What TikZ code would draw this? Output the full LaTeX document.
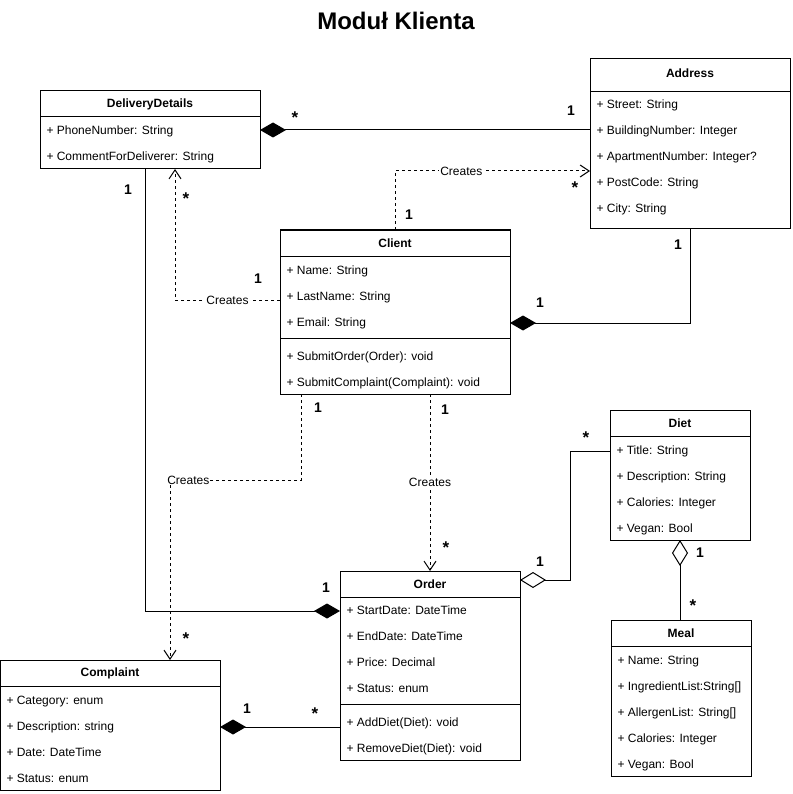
\documentclass[tikz,border=0pt]{standalone}
\usepackage{fontspec}
\setmainfont{Liberation Sans}
\usetikzlibrary{arrows.meta}

\begin{document}
\begin{tikzpicture}[x=1pt, y=-1pt, line width=1pt,
	cls/.style={draw, rectangle, anchor=north west, inner sep=0pt, outer sep=0pt},
	hdr/.style={font=\bfseries\fontsize{12pt}{14pt}\selectfont, inner sep=0pt},
	attr/.style={anchor=west, font=\fontsize{12pt}{14pt}\selectfont, inner sep=0pt, text height=9pt, text depth=3pt, yshift=-2pt},
	mult/.style={font=\bfseries\fontsize{14pt}{16pt}\selectfont, inner sep=0pt},
	star/.style={font=\bfseries\fontsize{17pt}{19pt}\selectfont, inner sep=0pt},
	lbl/.style={font=\fontsize{12pt}{14pt}\selectfont, fill=white, inner sep=1pt},
	comp/.style={{Diamond[length=26pt,width=15pt]}-},
	aggr/.style={{Diamond[open,length=26pt,width=16pt]}-},
	dep/.style={dash pattern=on 3pt off 3pt, -{Straight Barb[length=9pt,width=12pt]}}]
	\useasboundingbox (0,0) rectangle (792,794);
	\node[font=\bfseries\fontsize{24pt}{28pt}\selectfont] (title) at (396,21) {Moduł Klienta};

	% DeliveryDetails
	\node[cls, minimum width=220pt, minimum height=78pt] (deliv) at (40,91) {};
	\node[hdr] (delivH) at (150,104) {DeliveryDetails};
	\draw (40,117) -- (260,117);
	\node[attr] (dphone) at (46,130) {+ PhoneNumber: String};
	\node[attr] (dcomment) at (46,156) {+ CommentForDeliverer: String};

	% Address
	\node[cls, minimum width=200pt, minimum height=170pt] (addr) at (590,59) {};
	\node[hdr] (addrH) at (690,73) {Address};
	\draw (590,92) -- (790,92);
	\node[attr] (astreet) at (596,104) {+ Street: String};
	\node[attr] (abuild) at (596,130) {+ BuildingNumber: Integer};
	\node[attr] (aapart) at (596,156) {+ ApartmentNumber: Integer?};
	\node[attr] (apost) at (596,182) {+ PostCode: String};
	\node[attr] (acity) at (596,208) {+ City: String};

	% Client
	\node[cls, minimum width=230pt, minimum height=164pt] (client) at (280,230) {};
	\node[hdr] (clientH) at (395,243) {Client};
	\draw (280,256) -- (510,256);
	\draw (280,338) -- (510,338);
	\node[attr] (cname) at (286,269) {+ Name: String};
	\node[attr] (clast) at (286,295) {+ LastName: String};
	\node[attr] (cemail) at (286,321) {+ Email: String};
	\node[attr] (csubord) at (286,355) {+ SubmitOrder(Order): void};
	\node[attr] (csubcmp) at (286,381) {+ SubmitComplaint(Complaint): void};

	% Order
	\node[cls, minimum width=180pt, minimum height=189pt] (order) at (340,571) {};
	\node[hdr] (orderH) at (430,584) {Order};
	\draw (340,597) -- (520,597);
	\draw (340,704) -- (520,704);
	\node[attr] (ostart) at (346,609) {+ StartDate: DateTime};
	\node[attr] (oend) at (346,635) {+ EndDate: DateTime};
	\node[attr] (oprice) at (346,661) {+ Price: Decimal};
	\node[attr] (ostatus) at (346,687) {+ Status: enum};
	\node[attr] (oadd) at (346,721) {+ AddDiet(Diet): void};
	\node[attr] (oremove) at (346,747) {+ RemoveDiet(Diet): void};

	% Diet
	\node[cls, minimum width=140pt, minimum height=130pt] (diet) at (610,410) {};
	\node[hdr] (dietH) at (680,423) {Diet};
	\draw (610,436) -- (750,436);
	\node[attr] (dtitle) at (616,449) {+ Title: String};
	\node[attr] (ddesc) at (616,475) {+ Description: String};
	\node[attr] (dcal) at (616,501) {+ Calories: Integer};
	\node[attr] (dvegan) at (616,527) {+ Vegan: Bool};

	% Meal
	\node[cls, minimum width=140pt, minimum height=156pt] (meal) at (611,620) {};
	\node[hdr] (mealH) at (681,633) {Meal};
	\draw (611,646) -- (751,646);
	\node[attr] (mname) at (617,659) {+ Name: String};
	\node[attr] (mingr) at (617,685) {+ IngredientList:String[]};
	\node[attr] (mallerg) at (617,711) {+ AllergenList: String[]};
	\node[attr] (mcal) at (617,737) {+ Calories: Integer};
	\node[attr] (mvegan) at (617,763) {+ Vegan: Bool};

	% Complaint
	\node[cls, minimum width=220pt, minimum height=130pt] (complaint) at (0,660) {};
	\node[hdr] (complaintH) at (110,673) {Complaint};
	\draw (0,686) -- (220,686);
	\node[attr] (ccat) at (6,699) {+ Category: enum};
	\node[attr] (cdesc) at (6,725) {+ Description: string};
	\node[attr] (cdate) at (6,751) {+ Date: DateTime};
	\node[attr] (cstatus) at (6,777) {+ Status: enum};

	% associations
	\draw[comp] (deliv.east) -- (deliv.east -| addr.west);
	\draw[comp] (client.east |- cemail) -| (addr.south);
	\draw[comp] (order.west |- ostart) -| ([xshift=-5pt]deliv.south);
	\draw[comp] (complaint.east |- cdesc) -- (order.west |- cdesc);
	\draw[aggr] ([yshift=85.5pt]order.east) -- ++(50,0) |- (diet.west |- dtitle);
	\draw[aggr] (diet.south) -- (diet.south |- meal.north);

	% dependencies
	\draw[dep] (client.north) |- node[lbl, pos=0.67] {Creates} ([yshift=-27pt]addr.west);
	\draw[dep] ([yshift=12pt]client.west) -| node[lbl, pos=0.25] {Creates} ([xshift=25pt]deliv.south);
	\draw[dep] ([xshift=35pt]client.south) -- node[lbl] {Creates} (order.north);
	\draw[dep] ([xshift=-94pt]client.south) -- ++(0,86) -| node[lbl, pos=0.43] {Creates} ([xshift=60pt]complaint.north);

	% multiplicities
	\node[star] (m1) at (295,118) {*};
	\node[mult] (m2) at (571,111) {1};
	\node[mult] (m3) at (409,215) {1};
	\node[star] (m4) at (575,188) {*};
	\node[mult] (m5) at (678,245) {1};
	\node[mult] (m6) at (540,303) {1};
	\node[mult] (m7) at (128,190) {1};
	\node[star] (m8) at (186,199) {*};
	\node[mult] (m9) at (258,279) {1};
	\node[mult] (m10) at (318,408) {1};
	\node[mult] (m11) at (445,410) {1};
	\node[star] (m12) at (446,548) {*};
	\node[mult] (m13) at (326,588) {1};
	\node[star] (m14) at (186,639) {*};
	\node[mult] (m15) at (247,709) {1};
	\node[star] (m16) at (315,714) {*};
	\node[star] (m17) at (586,438) {*};
	\node[mult] (m18) at (540,562) {1};
	\node[mult] (m19) at (700,553) {1};
	\node[star] (m20) at (693,606) {*};
\end{tikzpicture}
\end{document}
